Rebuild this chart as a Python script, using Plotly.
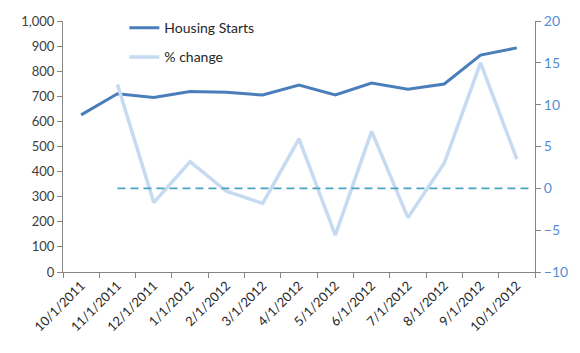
import plotly.graph_objects as go

dates = ["10/1/2011", "11/1/2011", "12/1/2011", "1/1/2012", "2/1/2012", "3/1/2012",
         "4/1/2012", "5/1/2012", "6/1/2012", "7/1/2012", "8/1/2012", "9/1/2012", "10/1/2012"]
housing_starts = [626, 710, 695, 719, 716, 705, 745, 705, 753, 728, 749, 864, 893]
pct_change = [None, 12.4, -1.7, 3.2, -0.35, -1.8, 5.9, -5.6, 6.8, -3.5, 3.0, 15.0, 3.5]
zero_line = [0, 0]

FONT = "Lato, Open Sans, sans-serif"

fig = go.Figure()
fig.add_trace(go.Scatter(x=dates, y=housing_starts, mode="lines", name="Housing Starts",
                         legendgroup="a", line=dict(color="#4A7EBB", width=3)))
fig.add_trace(go.Scatter(x=dates, y=pct_change, mode="lines", name="% change",
                         legendgroup="b", line=dict(color="#C6DAF1", width=3.5), yaxis="y2"))

fig.add_shape(type="line", xref="x", yref="y2", x0=1, x1=12.35, y0=zero_line[0], y1=zero_line[1],
              line=dict(color="#4BA3C3", width=1.8, dash="8px,5px"))

fig.update_layout(
    width=580, height=353,
    margin=dict(l=63, r=45, t=17, b=81),
    paper_bgcolor="white", plot_bgcolor="white",
    font=dict(family=FONT, size=13, color="#262626"),
    showlegend=True,
    legend=dict(x=0.13, y=1.035, xanchor="left", yanchor="top", bgcolor="rgba(0,0,0,0)",
                font=dict(size=14, color="#262626"), itemwidth=30, tracegroupgap=8),
    xaxis=dict(type="category", range=[-0.5, 12.5], showline=True, linecolor="#868686", linewidth=1,
               ticks="outside", tickson="boundaries", ticklen=5, tickcolor="#868686",
               tickangle=-45, showgrid=False, tickfont=dict(size=13, color="#262626")),
    yaxis=dict(range=[0, 1000], dtick=100, tickformat=",", showline=True, linecolor="#868686",
               ticks="outside", ticklen=5, tickcolor="#868686", showgrid=False, zeroline=False,
               tickfont=dict(size=13, color="#404040")),
    yaxis2=dict(range=[-10, 20], dtick=5, overlaying="y", side="right", showline=True,
                linecolor="#868686", ticks="outside", ticklen=5, tickcolor="#868686",
                showgrid=False, zeroline=False, tickfont=dict(size=14, color="#558ED5")),
)

fig.write_html("out.html")
